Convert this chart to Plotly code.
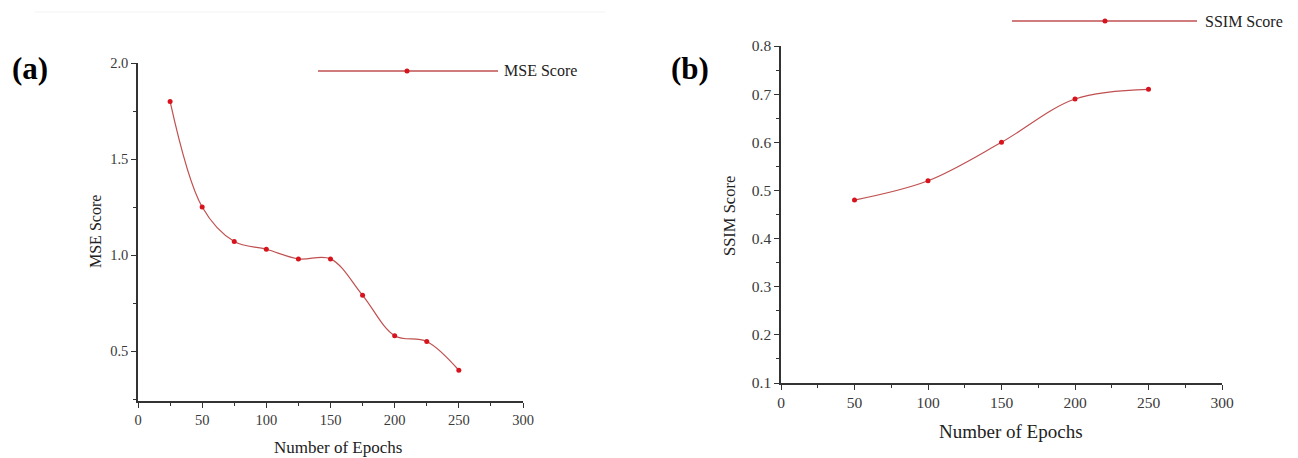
import plotly.graph_objects as go

# Data
mse_epochs = [25, 50, 75, 100, 125, 150, 175, 200, 225, 250]
mse_values = [1.80, 1.25, 1.07, 1.03, 0.98, 0.98, 0.79, 0.58, 0.55, 0.40]
ssim_epochs = [50, 100, 150, 200, 250]
ssim_values = [0.48, 0.52, 0.60, 0.69, 0.71]
x_ticks = [0, 50, 100, 150, 200, 250, 300]
mse_ticks = [0.5, 1.0, 1.5, 2.0]
ssim_ticks = [0.1, 0.2, 0.3, 0.4, 0.5, 0.6, 0.7, 0.8]

W, H = 1298, 458
LINE = "rgb(192,80,80)"
MARK = "rgb(215,20,30)"
FONT = "Liberation Serif"
AX = "#333333"

def px_x(v):
    return v / W

def px_y(v):
    return 1 - v / H

fig = go.Figure()
fig.add_trace(go.Scatter(x=mse_epochs, y=mse_values, mode="lines+markers",
                         line=dict(color=LINE, width=1.2, shape="spline", smoothing=1.0),
                         marker=dict(color=MARK, size=5), name="MSE Score",
                         xaxis="x", yaxis="y", showlegend=False))
fig.add_trace(go.Scatter(x=ssim_epochs, y=ssim_values, mode="lines+markers",
                         line=dict(color=LINE, width=1.2, shape="spline", smoothing=1.0),
                         marker=dict(color=MARK, size=5), name="SSIM Score",
                         xaxis="x2", yaxis="y2", showlegend=False))

def axis_common(size):
    return dict(showline=True, linecolor=AX, linewidth=1.5, ticks="outside",
                tickcolor=AX, ticklen=5, tickwidth=1.2, showgrid=False, zeroline=False,
                automargin=False,
                tickfont=dict(family=FONT, size=size, color="#3a3a3a"))

fig.update_layout(
    width=W, height=H, margin=dict(l=0, r=0, t=0, b=0, pad=0, autoexpand=False),
    autosize=False,
    paper_bgcolor="white", plot_bgcolor="white", showlegend=False,
    xaxis=dict(domain=[px_x(138), px_x(523)], range=[0, 300], tickvals=x_ticks,
               anchor="y", minor=dict(dtick=25, ticks="outside", ticklen=3, tickcolor=AX),
               **axis_common(14.5)),
    yaxis=dict(domain=[px_y(401), px_y(63)], range=[0.24, 2.0], tickvals=mse_ticks,
               tickformat=".1f", anchor="x",
               minor=dict(dtick=0.25, tick0=0, ticks="outside", ticklen=3, tickcolor=AX),
               **axis_common(14.5)),
    xaxis2=dict(domain=[px_x(781), px_x(1222)], range=[0, 300], tickvals=x_ticks,
                anchor="y2", minor=dict(dtick=25, ticks="outside", ticklen=3, tickcolor=AX),
                **axis_common(15.5)),
    yaxis2=dict(domain=[px_y(383), px_y(46)], range=[0.1, 0.8], tickvals=ssim_ticks,
                tickformat=".1f", anchor="x2",
                minor=dict(dtick=0.05, tick0=0, ticks="outside", ticklen=3, tickcolor=AX),
                **axis_common(15.5)),
)

ann = []
def text(x, y, s, size, angle=0, family=FONT, xanchor="center", color="#222"):
    ann.append(dict(x=px_x(x), y=px_y(y), xref="paper", yref="paper", text=s,
                    showarrow=False, textangle=angle, xanchor=xanchor, yanchor="middle",
                    font=dict(family=family, size=size, color=color)))

text(30, 68, "<b>(a)</b>", 31, color="black")
text(690, 68, "<b>(b)</b>", 31, color="black")
text(338, 447, "Number of Epochs", 17)
text(1011, 431, "Number of Epochs", 19)
text(96, 232, "MSE Score", 16, angle=-90)
text(729, 216, "SSIM Score", 16.5, angle=-90)
text(502, 71, "MSE Score", 16, xanchor="left")
text(1203, 21, "SSIM Score", 16, xanchor="left")
fig.update_layout(annotations=ann)

shapes = []
def legend_line(x0, x1, xm, y):
    shapes.append(dict(type="line", xref="paper", yref="paper", x0=px_x(x0), x1=px_x(x1),
                       y0=px_y(y), y1=px_y(y), line=dict(color=LINE, width=1.5)))
    shapes.append(dict(type="circle", xref="paper", yref="paper",
                       x0=px_x(xm - 2.5), x1=px_x(xm + 2.5), y0=px_y(y + 2.5), y1=px_y(y - 2.5),
                       fillcolor=MARK, line=dict(color=MARK, width=0)))
legend_line(318, 498, 407, 71)
legend_line(1012, 1197, 1105, 21)
shapes.append(dict(type="line", xref="paper", yref="paper", x0=px_x(35), x1=px_x(605),
                   y0=px_y(12), y1=px_y(12), line=dict(color="rgb(243,243,243)", width=1)))
fig.update_layout(shapes=shapes)

post = (
    "var s=document.createElement('style');"
    "s.innerHTML='html,body{margin:0;padding:0;overflow:hidden;}';"
    "document.head.appendChild(s);"
)
fig.write_html("out.html", config={"displayModeBar": False}, post_script=post)
